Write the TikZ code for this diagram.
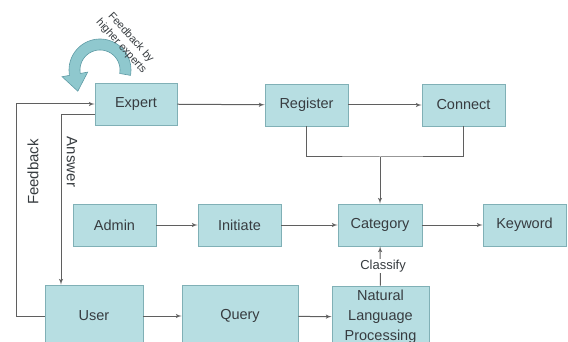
\documentclass[tikz,border=0pt]{standalone}
\usepackage{fontspec}
\setmainfont{Liberation Sans}
\usetikzlibrary{arrows}
\usetikzlibrary{positioning}
\definecolor{boxfill}{RGB}{183,222,226}
\definecolor{boxline}{RGB}{128,176,182}
\definecolor{wire}{RGB}{95,95,95}
\definecolor{txt}{RGB}{55,60,64}
\definecolor{bend}{RGB}{143,200,206}
\definecolor{bendline}{RGB}{95,155,165}

\begin{document}
\begin{tikzpicture}[x=1pt,y=-1pt]
  \tikzset{box/.style={draw=boxline, line width=0.8pt, fill=boxfill, text=txt, inner sep=0pt, align=center, font=\fontsize{14.5}{20}\selectfont}}
  \tikzset{line/.style={draw=wire, line width=1pt, ->, >=latex'}}
  \tikzset{line2/.style={draw=wire, line width=1pt}}
  \tikzset{tag/.style={text=txt, inner sep=1pt, font=\fontsize{15}{18}\selectfont}}

  \clip (0,0) rectangle (568,342);

  \node[box, minimum width=82pt, minimum height=42pt] (e) at (136,104) {Expert};
  \node[box, minimum width=83pt, minimum height=42pt] (r) at (306.5,105) {Register};
  \node[box, minimum width=83pt, minimum height=42pt] (c) at (463.5,105) {Connect};

  \node[box, minimum width=83pt, minimum height=42pt] (a) at (114.5,225) {Admin};
  \node[box, minimum width=83pt, minimum height=42pt] (i) at (239.5,225) {Initiate};
  \node[box, minimum width=84pt, minimum height=42pt] (g) at (380,225) {Category};
  \node[box, minimum width=83pt, minimum height=42pt] (k) at (524.5,225) {Keyword};

  \node[box, minimum width=98pt, minimum height=62pt] (u) at (94,316) {User};
  \node[box, minimum width=116pt, minimum height=62pt] (q) at (240,316) {Query};
  \node[box, minimum width=97pt, minimum height=62pt] (n) at (380.5,317) {Natural\\Language\\Processing};

  \coordinate (j) at (380,157);

  \draw[line] (e) -- (r);
  \draw[line] (r) -- (c);
  \draw[line2] (r.south) |- (j) -| (c.south);
  \draw[line] (j) -- (g);

  \draw[line] (a) -- (i);
  \draw[line] (i) -- (g);
  \draw[line] (g) -- (k);

  \draw[line] (u) -- (q);
  \draw[line] (q) -- (n);
  \draw[line] (n) -- (g);
  \node[tag, fill=white, font=\fontsize{13}{15}\selectfont] (cl) at (383,266) {Classify};

  \draw[line] (u.west) -- ++(-28,0) |- (e.west);
  \draw[line] ([yshift=-11pt]e.west) -| ([xshift=-33pt]u.north);
  \node[tag, rotate=90] (fb) at (33,172) {Feedback};
  \node[tag, rotate=-90] (an) at (72,162) {Answer};

  % feedback from the higher experts
  \filldraw[fill=bend, draw=bendline, line width=0.6pt]
    plot[domain=10:-190, samples=40] ({100+31*cos(\x)}, {70+31*sin(\x)})
    -- (62.1,76.7) -- (77.8,91.2) -- (87.7,72.1)
    -- plot[domain=-190:10, samples=40] ({100+20*cos(\x)}, {70+20*sin(\x)}) -- cycle;
  \node[tag, rotate=-48, align=center, font=\fontsize{10.9}{13}\selectfont] (hx) at (126,42) {Feedback by\\higher experts};

\end{tikzpicture}
\end{document}
